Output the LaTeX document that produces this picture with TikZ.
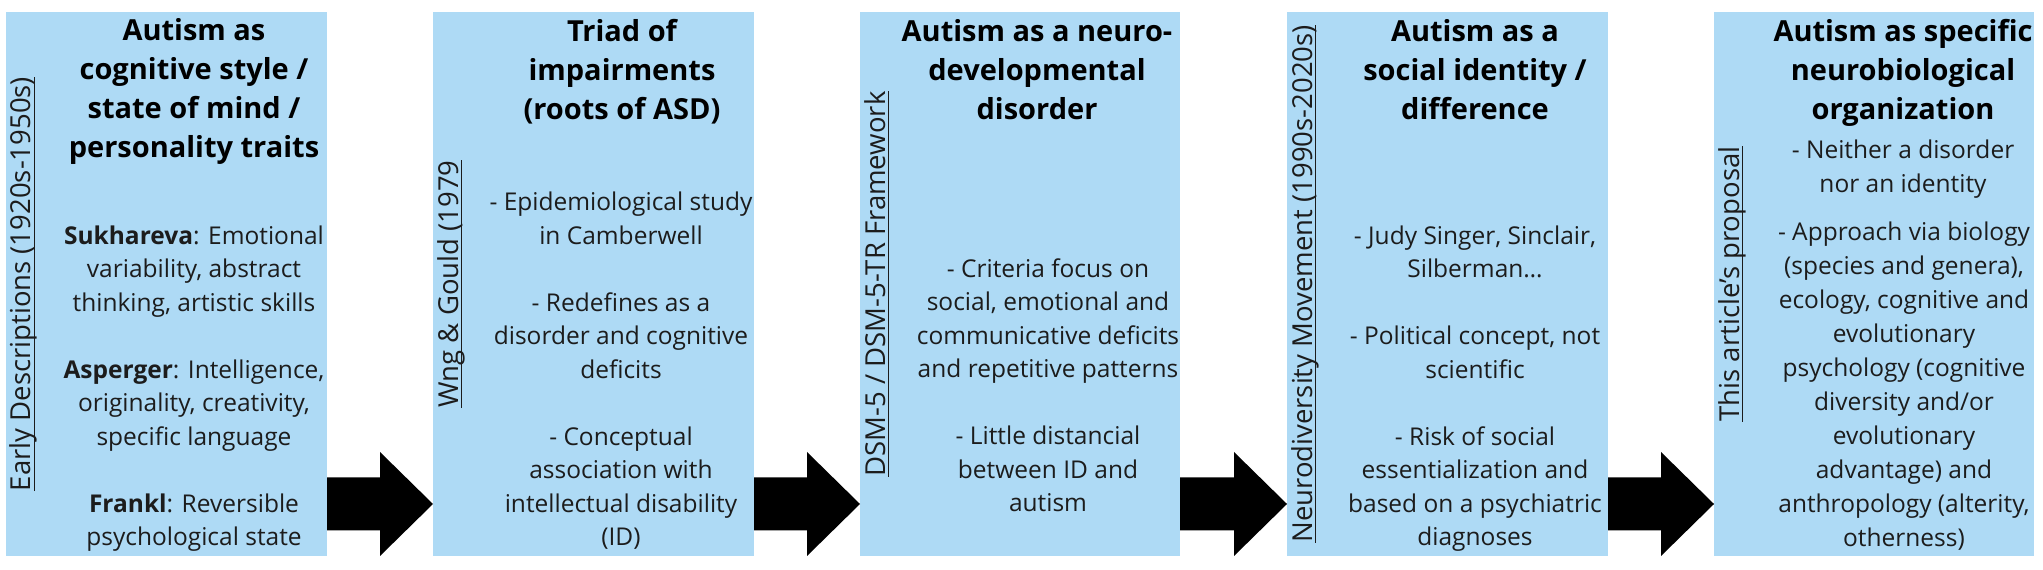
\documentclass[tikz,border=0pt]{standalone}
\usepackage{fontspec}
\setmainfont{Open Sans}
\usetikzlibrary{calc}
\definecolor{boxblue}{RGB}{174,218,245}
\definecolor{bodytext}{RGB}{28,28,28}
\begin{document}
\begin{tikzpicture}[x=1pt,y=1pt,
  panel/.style={fill=boxblue, draw=none, minimum width=#1, minimum height=544pt, inner sep=0pt, outer sep=0pt, anchor=south west},
  title/.style={font=\bfseries\fontsize{29}{39}\selectfont, align=center, inner sep=0pt, anchor=base, text=black},
  bodytxt/.style={font=\fontsize{24.5}{33.5}\selectfont, align=center, inner sep=0pt, anchor=base, text=bodytext},
  sidelabel/.style={font=\fontsize{27.5}{33}\selectfont, rotate=90, inner sep=0pt, anchor=base, text=bodytext},
  uline/.style={draw=bodytext, line width=1.3pt}]
\useasboundingbox (0,0) rectangle (2043,570);
\fill[white] (0,0) rectangle (2043,570);
% panels
\node[panel=321pt] (b1) at (6,14) {};
\node[panel=321pt] (b2) at (433,14) {};
\node[panel=320pt] (b3) at (860,14) {};
\node[panel=321pt] (b4) at (1287,14) {};
\node[panel=320pt] (b5) at (1714,14) {};
% side labels (underlined)
\node[sidelabel] (l1) at (31,286) {Early Descriptions (1920s-1950s)};
\node[sidelabel] (l2) at (458,286) {Wng \& Gould (1979};
\node[sidelabel] (l3) at (885,286) {DSM-5 / DSM-5-TR Framework};
\node[sidelabel] (l4) at (1312,286) {Neurodiversity Movement (1990s-2020s)};
\node[sidelabel] (l5) at (1739,286) {This article's proposal};
\foreach \l in {l1,l2,l3,l4,l5}{
  \draw[uline] ($(\l.base west)+(3.8,0)$) -- ($(\l.base east)+(3.8,0)$);
}
% titles (anchor = baseline of last line)
\node[title] (t1) at (194,412) {Autism as\\cognitive style /\\state of mind /\\personality traits};
\node[title] (t2) at (622,450) {Triad of\\impairments\\(roots of ASD)};
\node[title] (t3) at (1037,450) {Autism as a neuro-\\developmental\\disorder};
\node[title] (t4) at (1475,450) {Autism as a\\social identity /\\difference};
\node[title] (t5) at (1903,450) {Autism as specific\\neurobiological\\organization};
% bodies (anchor = baseline of last line)
\node[bodytxt] (c1) at (194,24) {\textbf{Sukhareva}: Emotional\\variability, abstract\\thinking, artistic skills\\[33.5pt]\textbf{Asperger}: Intelligence,\\originality, creativity,\\specific language\\[33.5pt]\textbf{Frankl}: Reversible\\psychological state};
\node[bodytxt] (c2) at (621,24) {- Epidemiological study\\in Camberwell\\[33.5pt]- Redefines as a\\disorder and cognitive\\deficits\\[33.5pt]- Conceptual\\association with\\intellectual disability\\(ID)};
\node[bodytxt] (c3) at (1048,58) {- Criteria focus on\\social, emotional and\\communicative deficits\\and repetitive patterns\\[33.5pt]- Little distancial\\between ID and\\autism};
\node[bodytxt] (c4) at (1475,24) {- Judy Singer, Sinclair,\\Silberman…\\[33.5pt]- Political concept, not\\scientific\\[33.5pt]- Risk of social\\essentialization and\\based on a psychiatric\\diagnoses};
\node[bodytxt] (c5a) at (1903,377.5) {- Neither a disorder\\nor an identity};
\node[bodytxt, font=\fontsize{24.5}{34}\selectfont] (c5b) at (1904,23.5) {- Approach via biology\\(species and genera),\\ecology, cognitive and\\evolutionary\\psychology (cognitive\\diversity and/or\\evolutionary\\advantage) and\\anthropology (alterity,\\otherness)};
% arrows
\foreach \a/\b in {b1/b2,b2/b3,b3/b4,b4/b5}{
  \coordinate (s) at ($(\a.south east)+(0,52)$);
  \coordinate (e) at ($(\b.south west)+(0,52)$);
  \fill[black] ($(s)+(0,26.5)$) -- ($(e)+(-53,26.5)$) -- ($(e)+(-53,52)$) -- (e) -- ($(e)+(-53,-52)$) -- ($(e)+(-53,-26.5)$) -- ($(s)+(0,-26.5)$) -- cycle;
}
\end{tikzpicture}
\end{document}
